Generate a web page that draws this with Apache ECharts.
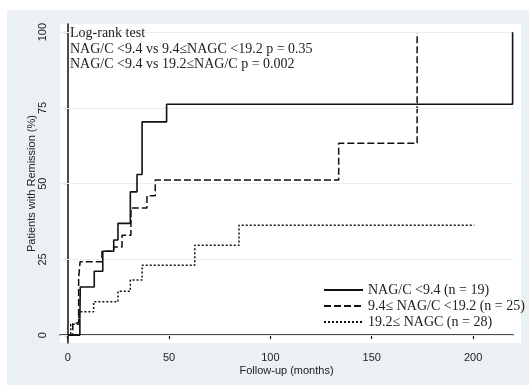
<!DOCTYPE html>
<html>
<head>
<meta charset="utf-8">
<script src="https://cdn.jsdelivr.net/npm/echarts@6/dist/echarts.min.js"></script>
<style>
  html, body { margin: 0; padding: 0; background: #fff; }
  #main { width: 529px; height: 386px; }
</style>
</head>
<body>
<div id="main"></div>
<script>
// tick labels
var xTicks = [0, 50, 100, 150, 200];
var yTicks = [0, 25, 50, 75, 100];

// group names
var groupNames = ['NAG/C <9.4 (n = 19)', '9.4\u2264 NAG/C <19.2 (n = 25)', '19.2\u2264 NAGC (n = 28)'];

// NAG/C < 9.4  (event times in months, cumulative %)
var lowTimes = [0, 6.0, 6.2, 13.1, 17.3, 22.7, 24.8, 30.9, 34.2, 36.7, 48.8, 219.5];
var lowPct   = [0, 5.3, 15.9, 21.1, 27.7, 31.4, 36.9, 47.3, 53.0, 70.4, 76.2, 100];

// 9.4 <= NAG/C < 19.2
var midTimes = [0, 2.5, 5.4, 6.1, 16.9, 22.7, 26.8, 31.2, 39.1, 43.2, 133.7, 172.4];
var midPct   = [0, 4.0, 18.8, 24.2, 27.7, 29.1, 33.0, 42.0, 46.0, 51.2, 63.3, 100];

// 19.2 <= NAG/C
var highTimes = [0, 1.5, 5.5, 12.8, 24.8, 30.9, 36.7, 62.7, 84.5, 200.6];
var highPct   = [0, 3.6, 7.7, 11.0, 14.5, 18.2, 23.1, 29.7, 36.3, 36.3];

function zip(t, p) {
  var out = [];
  for (var i = 0; i < t.length; i++) out.push([t[i], p[i]]);
  return out;
}

var myChart = echarts.init(document.getElementById('main'));

var gridLines = [];
for (var i = 0; i < yTicks.length; i++) gridLines.push({ yAxis: yTicks[i] });

var option = {
  animation: false,
  backgroundColor: '#fff',
  // Stata style grey graph region + white plot region
  graphic: [
    { type: 'rect', z: -20, shape: { x: 7, y: 10, width: 522, height: 375 }, style: { fill: '#eaf0f3' } },
    { type: 'rect', z: -19, shape: { x: 60, y: 24, width: 461, height: 319 }, style: { fill: '#fff' } }
  ],
  title: {
    text: 'Log-rank test\nNAG/C <9.4 vs 9.4\u2264NAGC <19.2 p = 0.35\nNAG/C <9.4 vs 19.2\u2264NAG/C p = 0.002',
    left: 65,
    top: 21,
    textStyle: {
      fontFamily: 'Liberation Serif',
      fontSize: 14,
      fontWeight: 'normal',
      color: '#222',
      lineHeight: 15.5
    }
  },
  legend: {
    orient: 'vertical',
    left: 323,
    top: 283,
    itemWidth: 39,
    itemHeight: 8,
    itemGap: 2,
    padding: 0,
    data: groupNames,
    itemStyle: { opacity: 0 },
    textStyle: {
      fontFamily: 'Liberation Serif',
      fontSize: 14,
      color: '#222',
      lineHeight: 14
    }
  },
  grid: {
    left: 60,
    right: 16,
    top: 24,
    bottom: 43
  },
  xAxis: {
    type: 'value',
    min: -3.8,
    max: 219.7,
    name: 'Follow-up (months)',
    nameLocation: 'middle',
    nameGap: 22,
    nameMoveOverlap: false,
    nameTextStyle: { fontFamily: 'Liberation Sans', fontSize: 11, color: '#222' },
    axisLine: { lineStyle: { color: '#111', width: 1.5 } },
    axisTick: { customValues: xTicks, length: 4, lineStyle: { color: '#111', width: 1.2 } },
    axisLabel: {
      customValues: xTicks,
      margin: 9,
      fontFamily: 'Liberation Sans',
      fontSize: 11,
      color: '#222'
    },
    splitLine: { show: false }
  },
  yAxis: {
    type: 'value',
    min: -2.6,
    max: 102.7,
    name: 'Patients with Remission (%)',
    nameLocation: 'middle',
    nameRotate: 90,
    nameGap: 23,
    nameMoveOverlap: false,
    nameTextStyle: { fontFamily: 'Liberation Sans', fontSize: 11, color: '#222' },
    axisLine: { show: true, lineStyle: { color: '#111', width: 1.5 } },
    axisTick: { show: true, customValues: yTicks, length: 4, lineStyle: { color: '#111', width: 1.2 } },
    axisLabel: {
      customValues: yTicks,
      rotate: 90,
      margin: 12,
      fontFamily: 'Liberation Sans',
      fontSize: 11,
      color: '#222'
    },
    splitLine: { show: false }
  },
  series: [
    {
      name: 'grid',
      type: 'line',
      data: [],
      z: 1,
      silent: true,
      markLine: {
        silent: true,
        symbol: 'none',
        label: { show: false },
        lineStyle: { color: '#e6eef1', width: 1, type: 'solid' },
        data: gridLines
      }
    },
    {
      name: groupNames[0],
      type: 'line',
      step: 'end',
      symbol: 'none',
      z: 5,
      data: zip(lowTimes, lowPct),
      lineStyle: { color: '#111', width: 1.6, type: 'solid' },
      itemStyle: { color: '#111' }
    },
    {
      name: groupNames[1],
      type: 'line',
      step: 'end',
      symbol: 'none',
      z: 4,
      data: zip(midTimes, midPct),
      lineStyle: { color: '#111', width: 1.5, type: [7, 3] },
      itemStyle: { color: '#111' }
    },
    {
      name: groupNames[2],
      type: 'line',
      step: 'end',
      symbol: 'none',
      z: 3,
      data: zip(highTimes, highPct),
      lineStyle: { color: '#111', width: 1.5, type: [2, 2] },
      itemStyle: { color: '#111' }
    }
  ]
};

myChart.setOption(option);
</script>
</body>
</html>
